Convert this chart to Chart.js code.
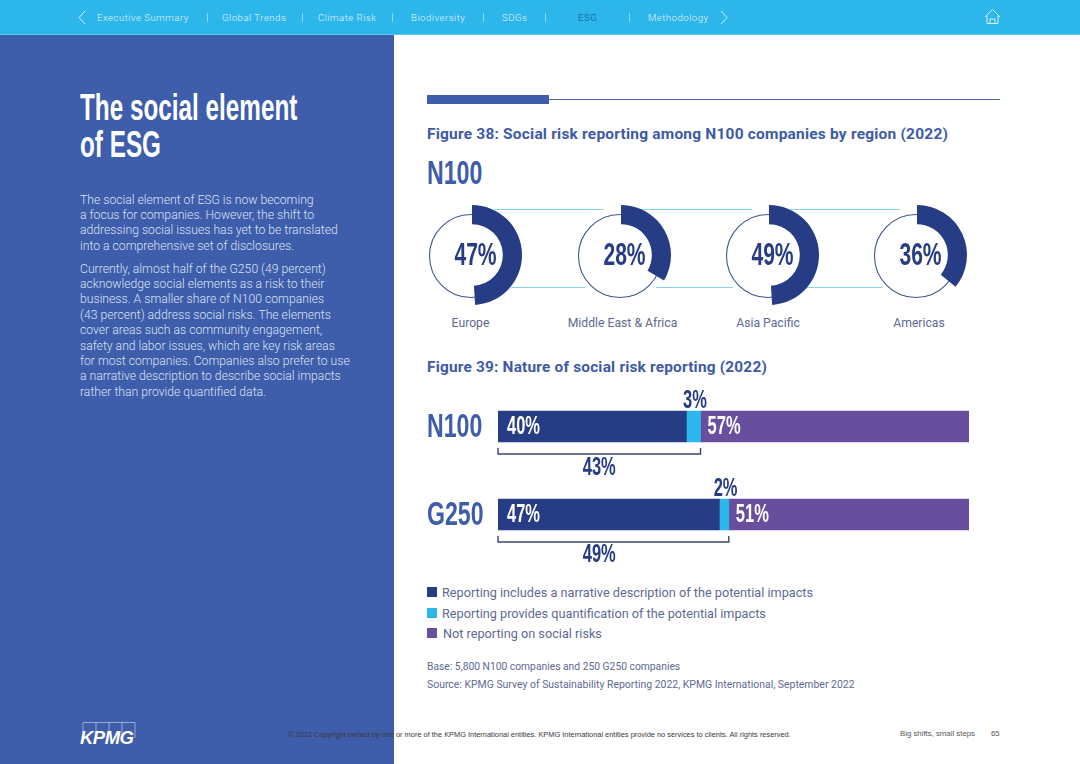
<!DOCTYPE html>
<html><head><meta charset="utf-8">
<script src="https://cdn.jsdelivr.net/npm/chart.js@4"></script>
<style>
html,body{margin:0;padding:0;background:#fff;overflow:hidden}
#page{position:relative;width:1080px;height:764px;overflow:hidden;font-family:Roboto,"Liberation Sans",sans-serif}
#page>*{position:absolute}
.t{white-space:nowrap;line-height:1}
canvas{display:block}
.wrap{position:absolute}
.cond{font-family:"Liberation Sans",sans-serif;font-weight:700;transform-origin:0 0}
</style></head><body>
<div id="page">
  <div style="left:0;top:0;width:1080px;height:34px;background:#2cb6ea;border-bottom:1px solid #5cc6ef"></div>
  <div style="left:0;top:35px;width:394px;height:729px;background:#3e5dab"></div>
  <div id="nav"></div>
  <svg style="left:0;top:0" width="1080" height="35" fill="none" stroke="#d8f1fb" stroke-width="1">
    <path d="M85 11 L79 17.5 L85 24"/><path d="M721 11 L727 17.5 L721 24"/>
    <path d="M985 17 L992.5 9.5 L1000 17 M987 15.5 V23.5 H998 V15.5 M990 23.5 V19 H995 V23.5"/>
  </svg>
  <div class="t cond" style="left:80px;top:90px;font-size:36px;color:#fff;transform:scaleX(.675)">The social element</div>
  <div class="t cond" style="left:80px;top:127px;font-size:36px;color:#fff;transform:scaleX(.675)">of ESG</div>
  <div id="body" style="left:80px;top:192.500px;font-size:12.2px;font-weight:300;color:#dbe3f3;line-height:15.4px;white-space:nowrap"></div>

  <div style="left:427px;top:95px;width:122px;height:9px;background:#3e5dab"></div>
  <div style="left:549px;top:99px;width:451px;height:1.3px;background:#4a66ae"></div>
  <div id="fig38" class="t" style="left:427px;top:127px;font-size:15.5px;font-weight:700;letter-spacing:.2px;color:#3e5aa6"></div>
  <div id="n100h" class="t cond" style="left:427px;top:155px;font-size:34px;color:#3e5dab;transform:scaleX(.68)">N100</div>

  <div style="left:494px;top:209px;width:110px;height:1.300px;background:#86d3f2"></div>
  <div style="left:640px;top:209px;width:112px;height:1.300px;background:#86d3f2"></div>
  <div style="left:790px;top:209px;width:110px;height:1.300px;background:#86d3f2"></div>
  <div style="left:511px;top:287px;width:74px;height:1.300px;background:#86d3f2"></div>
  <div style="left:656px;top:287px;width:77px;height:1.300px;background:#86d3f2"></div>
  <div style="left:806px;top:287px;width:76px;height:1.300px;background:#86d3f2"></div>
  <div id="donuts" style="left:0;top:0"></div>
  <div id="regions" style="left:0;top:0"></div>

  <div id="fig39" class="t" style="left:427px;top:359.500px;font-size:15.4px;font-weight:700;letter-spacing:.2px;color:#3e5aa6"></div>
  <div class="wrap" style="left:420px;top:380px;width:560px;height:190px"><canvas id="bars" width="560" height="190"></canvas></div>
  <div id="legend" style="left:0;top:0"></div>

  <div class="t" id="base" style="left:427px;top:662px;font-size:10.3px;color:#5d6a92"></div>
  <div class="t" id="source" style="left:427px;top:680px;font-size:10.45px;color:#5d6a92"></div>

  <svg style="left:78px;top:720px" width="60" height="28" fill="none">
    <path d="M5 2.500 H57 V18 M5 2.500 V13 M18 2.500 V13 M31 2.500 V13 M44 2.500 V18" stroke="#aebfe0" stroke-width=".8"/>
  </svg>
  <div class="t" style="left:80px;top:729px;font-family:'Liberation Sans';font-weight:700;font-style:italic;font-size:18.5px;color:#fff;letter-spacing:-.5px">KPMG</div>
  <div class="t" id="copy" style="left:288px;top:731px;font-family:'Liberation Sans';font-size:7.42px;color:#3a3a3a"></div>
  <div class="t" style="left:900px;top:730px;font-family:'Liberation Sans';font-size:7.8px;color:#555">Big shifts, small steps</div>
  <div class="t" style="left:991px;top:730px;font-family:'Liberation Sans';font-size:7.8px;color:#555">65</div>
</div>
<script>
const navItems = ["Executive Summary","Global Trends","Climate Risk","Biodiversity","SDGs","ESG","Methodology"];
const navX = [97,222,318,411,502,578,648];
const navSepX = [207,302,392,483,545,629];
const activeNav = "ESG";

const regions = ["Europe","Middle East & Africa","Asia Pacific","Americas"];
// Percentages printed in the reference.
const regionValues = [47,28,49,36];
// Arc lengths as drawn in the reference (Europe and Middle East & Africa are drawn longer than their labels).
const regionArcs = [49,33.5,49,36];
const regionCenters = [471.5,620.5,769,917];
const regionLabelX = [470.5,622.5,768,919];

const barCategories = ["N100","G250"];
const narrative = [40,47];
const quantified = [3,2];
const notReporting = [57,51];
const bracketTotals = [43,49];
const seriesNames = ["Reporting includes a narrative description of the potential impacts","Reporting provides quantification of the potential impacts","Not reporting on social risks"];
const seriesColors = ["#263c85","#2bb6ec","#674f9e"];

const bodyLines = ["The social element of ESG is now becoming","a focus for companies. However, the shift to","addressing social issues has yet to be translated","into a comprehensive set of disclosures.",null,"Currently, almost half of the G250 (49 percent)","acknowledge social elements as a risk to their","business. A smaller share of N100 companies","(43 percent) address social risks. The elements","cover areas such as community engagement,","safety and labor issues, which are key risk areas","for most companies. Companies also prefer to use","a narrative description to describe social impacts","rather than provide quantified data."];

function add(parentId, html, style){
  const d=document.createElement('div'); d.className='t'; d.textContent=html; d.style.cssText='position:absolute;'+style;
  document.getElementById(parentId).appendChild(d); return d;
}
navItems.forEach((n,i)=>add('nav',n,`left:${navX[i]}px;top:12.500px;font-size:9.6px;font-weight:${n===activeNav?400:300};letter-spacing:.5px;color:${n===activeNav?'#1c6fb5':'#e4f5fc'}`));
navSepX.forEach(x=>{add('nav','',`left:${x}px;top:13px;width:1px;height:9px;background:#8ed8f4`);});

document.getElementById('body').innerHTML=bodyLines.map(l=>l===null?'<div style="height:7.500px"></div>':'<div>'+l+'</div>').join('');
document.getElementById('fig38').textContent="Figure 38: Social risk reporting among N100 companies by region (2022)";
document.getElementById('fig39').textContent="Figure 39: Nature of social risk reporting (2022)";
document.getElementById('base').textContent="Base: 5,800 N100 companies and 250 G250 companies";
document.getElementById('source').textContent="Source: KPMG Survey of Sustainability Reporting 2022, KPMG International, September 2022";
document.getElementById('copy').textContent="© 2022 Copyright owned by one or more of the KPMG International entities. KPMG International entities provide no services to clients. All rights reserved.";

regions.forEach((r,i)=>add('regions',r,`left:${regionLabelX[i]}px;top:316.500px;transform:translateX(-50%);font-size:12.2px;font-weight:400;color:#5d6a92`));
const legendY=[587,608,628];
seriesNames.forEach((s,i)=>{
  add('legend','',`left:427px;top:${legendY[i]}px;width:10px;height:10px;background:${seriesColors[i]}`);
  add('legend',s,`left:${i==2?443:442}px;top:${legendY[i]}px;font-size:12.7px;color:#5d6a92`);
});

function condText(ctx,txt,x,y,size,sx,color,align){
  ctx.save();
  ctx.font=`700 ${size}px "Liberation Sans",sans-serif`;
  ctx.fillStyle=color; ctx.textBaseline='middle'; ctx.textAlign=align||'center';
  ctx.translate(x,y); ctx.scale(sx,1); ctx.fillText(txt,0,0); ctx.restore();
}
const donutHost=document.getElementById('donuts');
const ringPlugin={id:'ring',beforeDatasetsDraw(c){
  const m=c.getDatasetMeta(0).data[0], ctx=c.ctx;
  ctx.save();ctx.beginPath();ctx.arc(m.x-1,m.y+1,41.500,0,Math.PI*2);
  ctx.strokeStyle='#3f5593';ctx.lineWidth=1.1;ctx.stroke();ctx.restore();
},afterDatasetsDraw(c){
  const m=c.getDatasetMeta(0).data[0];
  condText(c.ctx,c.options.plugins.ring.label,m.x+3.500,m.y+1,31,.68,'#263c85');
}};
regionArcs.forEach((v,i)=>{
  const w=document.createElement('div');w.className='wrap';
  w.style.cssText=`left:${regionCenters[i]-60}px;top:194.500px;width:120px;height:120px`;
  const cv=document.createElement('canvas');cv.width=120;cv.height=120;w.appendChild(cv);donutHost.appendChild(w);
  new Chart(cv,{type:'doughnut',plugins:[ringPlugin],
    data:{labels:[regions[i],'Other'],datasets:[{data:[v,100-v],backgroundColor:['#263c85','rgba(0,0,0,0)'],borderWidth:0}]},
    options:{responsive:false,animation:false,radius:50,cutout:37,rotation:0,
      plugins:{legend:{display:false},tooltip:{enabled:false},ring:{label:regionValues[i]+'%'}}}});
});

const annotate={id:'annotate',afterDatasetsDraw(c){
  const ctx=c.ctx,x=c.scales.x,y=c.scales.y;
  barCategories.forEach((cat,i)=>{
    const yc=y.getPixelForValue(i), a=narrative[i], b=quantified[i];
    condText(ctx,cat,7,yc+1,34,.68,'#3e5dab','left');
    condText(ctx,a+'%',x.getPixelForValue(0)+9,yc+1,25,.66,'#fff','left');
    condText(ctx,notReporting[i]+'%',x.getPixelForValue(a+b)+7,yc+1,25,.66,'#fff','left');
    condText(ctx,b+'%',x.getPixelForValue(a+b/2)+1.500,yc-25,25,.66,'#263c85');
    const x0=x.getPixelForValue(0),x1=x.getPixelForValue(bracketTotals[i]);
    ctx.save();ctx.strokeStyle='#39476f';ctx.lineWidth=1.4;ctx.beginPath();
    ctx.moveTo(x0,yc+21.5);ctx.lineTo(x0,yc+27.5);ctx.lineTo(x1,yc+27.5);ctx.lineTo(x1,yc+21.5);ctx.stroke();ctx.restore();
    condText(ctx,bracketTotals[i]+'%',x.getPixelForValue(21.500),yc+(i===0?41.5:40.5),25,.66,'#263c85');
  });
}};
new Chart(document.getElementById('bars'),{type:'bar',plugins:[annotate],
  data:{labels:barCategories,datasets:[
    {label:seriesNames[0],data:narrative,backgroundColor:seriesColors[0]},
    {label:seriesNames[1],data:quantified,backgroundColor:seriesColors[1]},
    {label:seriesNames[2],data:notReporting,backgroundColor:seriesColors[2]}
  ]},
  options:{indexAxis:'y',responsive:false,animation:false,
    datasets:{bar:{barThickness:31,borderWidth:0}},
    layout:{padding:{top:2.5,bottom:11.5,right:11,left:0}},
    scales:{
      x:{stacked:true,min:0,max:100,display:false},
      y:{stacked:true,afterFit(s){s.width=78;s.paddingTop=0;s.paddingBottom=0;},border:{display:false},grid:{display:false},
        ticks:{display:false}}
    },
    plugins:{legend:{display:false},tooltip:{enabled:false}}}});
</script>
</body></html>
